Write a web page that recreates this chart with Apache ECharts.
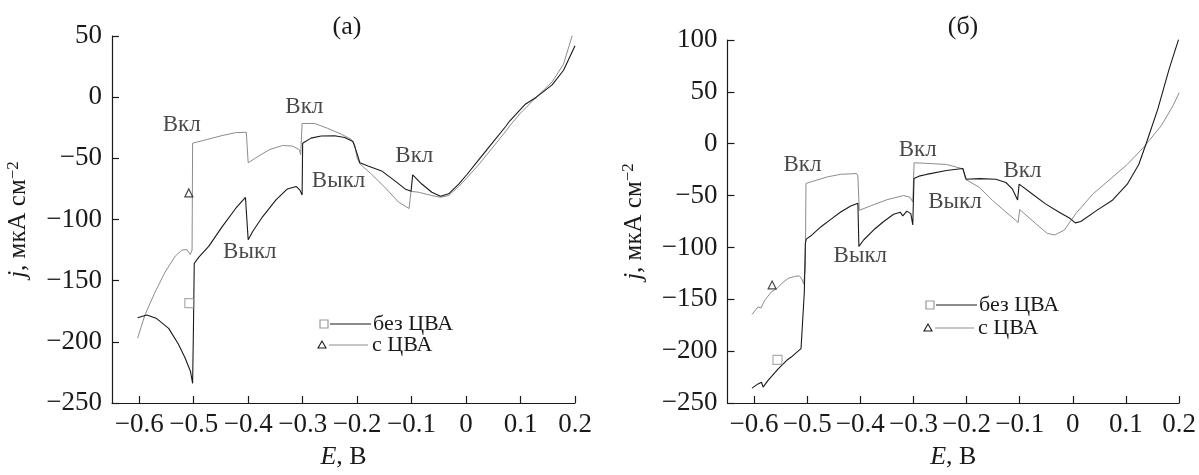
<!DOCTYPE html>
<html><head><meta charset="utf-8">
<script src="https://cdn.jsdelivr.net/npm/echarts@6/dist/echarts.min.js"></script>
<style>html,body{margin:0;padding:0;background:#fff}#c{width:1199px;height:475px}</style>
</head><body><div id="c"></div>
<script>
// ---------- data ----------
const xTicks = [-0.6,-0.5,-0.4,-0.3,-0.2,-0.1,0,0.1,0.2];
const panelTitles = ['(а)', '(б)'];
const seriesNames = ['без ЦВА', 'с ЦВА'];

// panel (a)
const aNoCva = [[-0.603,-180.3],[-0.586,-178],[-0.568,-181],[-0.546,-189],[-0.528,-202],[-0.516,-213],[-0.506,-224],[-0.502,-234],[-0.5005,-190],[-0.499,-136],[-0.491,-131],[-0.4725,-122],[-0.448,-106],[-0.423,-91],[-0.405,-82],[-0.4,-116.6],[-0.392,-110],[-0.374,-98],[-0.349,-84],[-0.328,-75],[-0.312,-73],[-0.305,-76],[-0.301,-80],[-0.3,-37.6],[-0.2846,-33.5],[-0.266,-31.7],[-0.2415,-31.5],[-0.223,-33],[-0.2076,-36.2],[-0.2014,-44.3],[-0.195,-53.6],[-0.18,-56.3],[-0.155,-60.3],[-0.1306,-68.4],[-0.112,-75],[-0.101,-77],[-0.098,-63.5],[-0.0813,-71],[-0.0628,-77.7],[-0.047,-81],[-0.032,-79],[-0.0135,-71],[0.002,-63],[0.0235,-51],[0.048,-37.6],[0.0727,-24],[0.08,-19.5],[0.108,-6],[0.129,0],[0.158,10],[0.179,22],[0.2,42]];
const aCva = [[-0.603,-197],[-0.5895,-178],[-0.571,-159.4],[-0.5526,-143],[-0.534,-130],[-0.522,-125],[-0.5125,-124.6],[-0.5064,-128.6],[-0.503,-125],[-0.502,-37.6],[-0.5,-37],[-0.479,-35],[-0.448,-31.4],[-0.423,-29],[-0.4034,-28.7],[-0.4,-53.6],[-0.386,-49.6],[-0.3615,-43],[-0.337,-39.5],[-0.3184,-40],[-0.306,-43],[-0.3036,-47],[-0.301,-21.5],[-0.298,-20.2],[-0.278,-21.5],[-0.254,-25.5],[-0.229,-30.3],[-0.211,-34.4],[-0.2045,-39],[-0.2,-49.6],[-0.195,-54.4],[-0.1737,-63],[-0.149,-73.7],[-0.124,-85.8],[-0.1047,-91],[-0.101,-77],[-0.0874,-77.7],[-0.0628,-80.4],[-0.047,-81.8],[-0.032,-80.4],[-0.0135,-73],[0.002,-65.7],[0.0235,-55],[0.048,-41.6],[0.0727,-28],[0.08,-23.5],[0.1,-13],[0.129,0],[0.158,12.5],[0.179,27],[0.195,50.5]];
const aMarkNoCva = [[-0.508,-168.3]];
const aMarkCva = [[-0.509,-78.3]];
const aNotes = [['Вкл',-0.522,-23],['Выкл',-0.397,-126.7],['Вкл',-0.297,-8],['Выкл',-0.234,-68.4],['Вкл',-0.095,-48.3]];

// panel (б)
const bNoCva = [[-0.604,-235.7],[-0.5925,-231.6],[-0.586,-230],[-0.583,-234.7],[-0.574,-228.4],[-0.555,-217.4],[-0.5365,-208],[-0.53,-205.7],[-0.521,-201.6],[-0.5116,-197.5],[-0.508,-196],[-0.5054,-143],[-0.5035,-95.8],[-0.5017,-92],[-0.493,-88.8],[-0.474,-80],[-0.4556,-73],[-0.437,-65.8],[-0.418,-60],[-0.4046,-57.3],[-0.4027,-99],[-0.3934,-92.6],[-0.3747,-83],[-0.356,-75],[-0.3374,-68],[-0.325,-66],[-0.32,-69.6],[-0.3125,-65],[-0.305,-67.4],[-0.3013,-78.4],[-0.299,-33.6],[-0.2876,-31],[-0.2754,-29.6],[-0.238,-25.8],[-0.207,-23.9],[-0.204,-25],[-0.2007,-34.3],[-0.1757,-33.7],[-0.145,-34.3],[-0.126,-37.4],[-0.1136,-43.8],[-0.104,-54.2],[-0.1011,-39],[-0.0763,-48.5],[-0.0515,-58],[-0.0265,-65.9],[-0.0049,-72.2],[0.0045,-76.3],[0.015,-75],[0.045,-64.3],[0.0737,-54.8],[0.1024,-39],[0.124,-20],[0.138,0.2],[0.16,33.6],[0.181,71.6],[0.199,100.6]];
const bCva = [[-0.604,-164.6],[-0.5925,-157.4],[-0.587,-158.4],[-0.58,-151],[-0.5676,-143],[-0.558,-140],[-0.549,-135.3],[-0.5365,-130],[-0.524,-128],[-0.5147,-127.4],[-0.51,-130.5],[-0.5067,-135.3],[-0.5035,-120],[-0.5023,-38.3],[-0.4867,-35.8],[-0.462,-32],[-0.437,-29.5],[-0.407,-28.8],[-0.4046,-31],[-0.402,-64.2],[-0.381,-60],[-0.35,-54],[-0.3187,-50],[-0.3063,-51.6],[-0.3013,-56.3],[-0.2988,-18.4],[-0.269,-19.1],[-0.238,-20],[-0.207,-24.2],[-0.2019,-34.3],[-0.1757,-42.2],[-0.1509,-54.8],[-0.126,-65.9],[-0.1075,-73.8],[-0.103,-76],[-0.1,-63.5],[-0.07,-77],[-0.0483,-86.4],[-0.034,-88],[-0.016,-83.2],[0.0054,-67.5],[0.0376,-48.5],[0.0737,-32.7],[0.1024,-20],[0.1345,-2.7],[0.167,17.8],[0.1886,36.8],[0.2,49]];
const bMarkNoCva = [[-0.556,-208.5]];
const bMarkCva = [[-0.566,-136.2]];
const bNotes = [['Вкл',-0.509,-20.1],['Выкл',-0.4,-108.5],['Вкл',-0.292,-5.9],['Выкл',-0.222,-56.4],['Вкл',-0.095,-26.4]];

// ---------- chart ----------
const FONT = '"Liberation Serif", "DejaVu Serif", serif';
const BLACK = '#1a1a1a', GRAY = '#8c8c8c';
const chart = echarts.init(document.getElementById('c'), null, {renderer:'canvas'});
const fmt = v => String(Math.round(v*10)/10).replace('-', '\u2212');
const fmtY = v => String(v).replace('-', '\u2212');

function xAxis(gi){
  return {type:'value', gridIndex:gi, min:-0.65, max:0.2,
    name:'{i|E}, В', nameLocation:'middle', nameGap:41,
    nameTextStyle:{fontFamily:FONT, fontSize:26, color:BLACK, rich:{i:{fontFamily:FONT,fontSize:26,fontStyle:'italic',color:BLACK}}},
    axisLine:{onZero:false, lineStyle:{color:BLACK,width:1.2}},
    axisTick:{inside:true,length:7,lineStyle:{color:BLACK,width:1.2},customValues:xTicks},
    axisLabel:{fontFamily:FONT,fontSize:27,color:BLACK,margin:8,customValues:xTicks,formatter:fmt},
    splitLine:{show:false}};
}
function yAxis(gi, min, max){
  return {type:'value', gridIndex:gi, min:min, max:max, interval:50,
    name:'{i|j}, мкА см{s|\u22122}', nameLocation:'middle', nameGap:80, nameRotate:90,
    nameTextStyle:{fontFamily:FONT, fontSize:25, color:BLACK, rich:{
      i:{fontFamily:FONT,fontSize:25,fontStyle:'italic',color:BLACK},
      s:{fontFamily:FONT,fontSize:17,color:BLACK,verticalAlign:'top',padding:[0,0,10,0]}}},
    axisLine:{show:true,onZero:false,lineStyle:{color:BLACK,width:1.2}},
    axisTick:{show:true,inside:true,length:7,lineStyle:{color:BLACK,width:1.2}},
    axisLabel:{fontFamily:FONT,fontSize:27,color:BLACK,margin:10,formatter:fmtY},
    splitLine:{show:false}};
}
function lineS(data, gi, color, w){
  return {type:'line', xAxisIndex:gi, yAxisIndex:gi, data:data, showSymbol:false, symbol:'none',
    lineStyle:{color:color,width:w}, animation:false, silent:true, z:3};
}
function markS(data, gi, sym, color, size){
  return {type:'scatter', xAxisIndex:gi, yAxisIndex:gi, data:data, symbol:sym, symbolSize:size,
    itemStyle:{color:'rgba(0,0,0,0)', borderColor:color, borderWidth:1.2}, animation:false, silent:true, z:4};
}
function noteS(notes, gi){
  return {type:'scatter', xAxisIndex:gi, yAxisIndex:gi, symbolSize:0,
    data: notes.map(n=>({name:n[0], value:[n[1],n[2]]})),
    label:{show:true, position:'inside', formatter:p=>p.name, fontFamily:FONT, fontSize:23, color:BLACK},
    animation:false, silent:true, z:5};
}
function legendG(x, y1, y2){
  return [
    {type:'rect', shape:{x:x-4,y:y1-4,width:8,height:8}, style:{fill:'none',stroke:'#999',lineWidth:1.2}},
    {type:'line', shape:{x1:x+6,y1:y1,x2:x+47,y2:y1}, style:{stroke:BLACK,lineWidth:1.1}},
    {type:'text', x:x+49, y:y1, style:{text:seriesNames[0], font:'22px '+FONT, fill:BLACK, verticalAlign:'middle'}},
    {type:'polygon', shape:{points:[[x-2,y2-4],[x-6,y2+3],[x+2,y2+3]]}, style:{fill:'none',stroke:BLACK,lineWidth:1.1}},
    {type:'line', shape:{x1:x+5,y1:y2,x2:x+44,y2:y2}, style:{stroke:GRAY,lineWidth:1}},
    {type:'text', x:x+48, y:y2, style:{text:seriesNames[1], font:'22px '+FONT, fill:BLACK, verticalAlign:'middle'}}
  ];
}

chart.setOption({
  backgroundColor:'#fff',
  animation:false,
  title:[
    {text:panelTitles[0], left:342, top:9, textAlign:'center', textStyle:{fontFamily:FONT,fontSize:26,fontWeight:'normal',color:BLACK}},
    {text:panelTitles[1], left:958, top:9, textAlign:'center', textStyle:{fontFamily:FONT,fontSize:26,fontWeight:'normal',color:BLACK}}
  ],
  grid:[
    {left:112, top:36, width:463, height:373.5},
    {left:727.5, top:40, width:455.5, height:369.5}
  ],
  xAxis:[xAxis(0), xAxis(1)],
  yAxis:[yAxis(0,-250,50), yAxis(1,-250,100)],
  series:[
    lineS(aCva,0,GRAY,1), lineS(aNoCva,0,BLACK,1.1),
    markS(aMarkNoCva,0,'rect','#999',9), markS(aMarkCva,0,'triangle',BLACK,8),
    noteS(aNotes,0),
    lineS(bCva,1,GRAY,1), lineS(bNoCva,1,BLACK,1.1),
    markS(bMarkNoCva,1,'rect','#999',9), markS(bMarkCva,1,'triangle',BLACK,8),
    noteS(bNotes,1)
  ],
  graphic: legendG(324,324,345).concat(legendG(930,305,328))
});
</script></body></html>
